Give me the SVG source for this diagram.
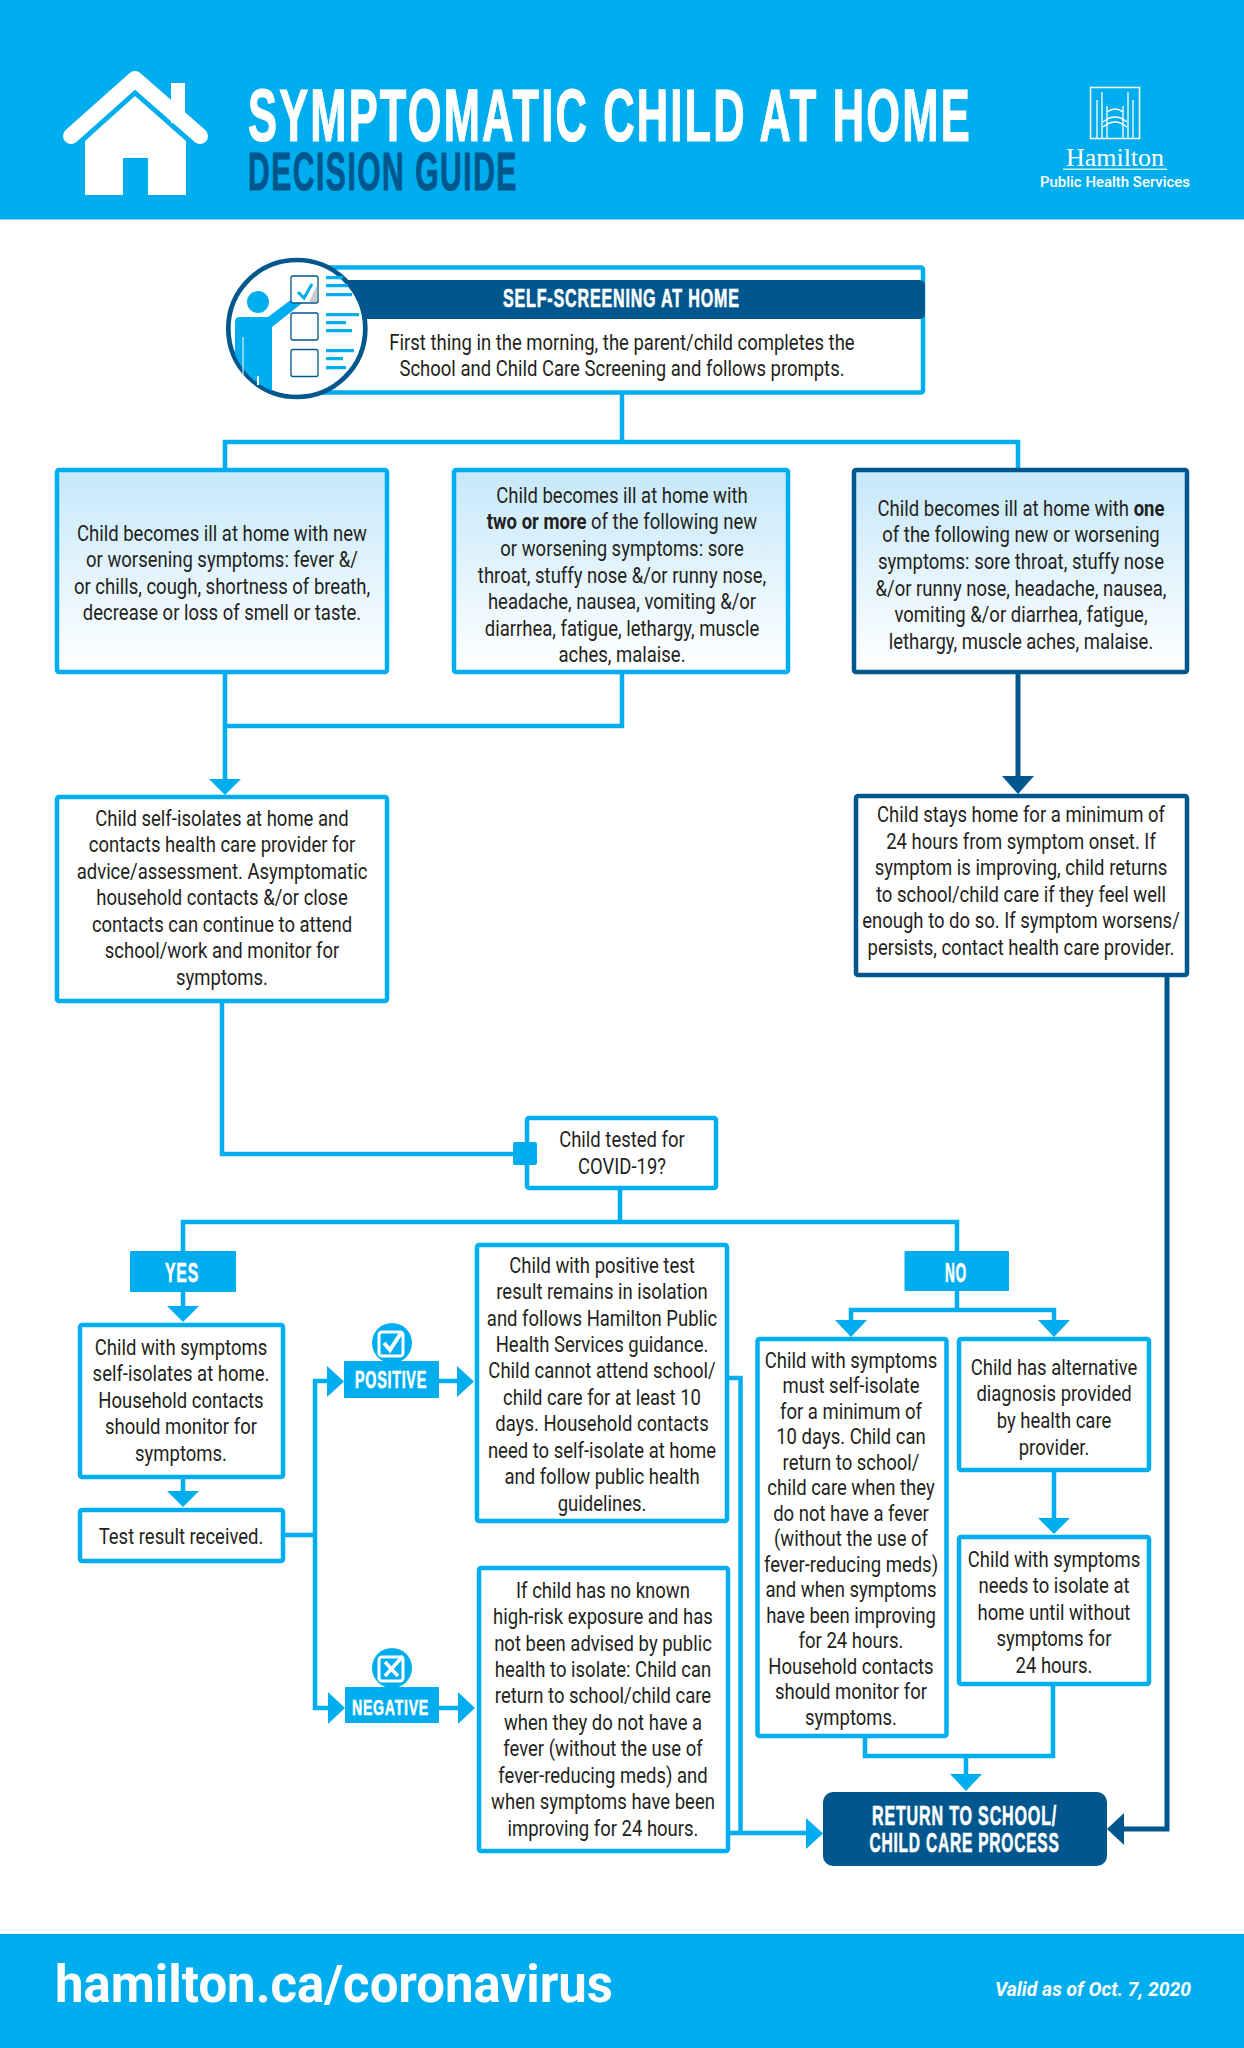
<svg xmlns="http://www.w3.org/2000/svg" width="1244" height="2048" viewBox="0 0 1244 2048">
<style>
.box{fill:#fff;stroke:#00aeef;stroke-width:4.5}
.gr{fill:url(#g);stroke:#00aeef;stroke-width:4.5}
.dk{fill:#fff;stroke:#00578e;stroke-width:4.5}
.b{font:400 21.5px Roboto,sans-serif;fill:#231f20;text-anchor:middle}
.h{font-family:"Liberation Sans",sans-serif;font-weight:700;fill:#fff;stroke:#fff;stroke-width:.6;letter-spacing:.05em}
.f{font-family:Roboto,sans-serif;font-weight:700;fill:#fff}
.c{fill:none;stroke:#00aeef;stroke-width:4.5}
.cd{fill:none;stroke:#00578e;stroke-width:5}
.a{fill:#00aeef}
.ad{fill:#00578e}
.bl{fill:#00aeef}
.lab{fill:#00aeef}
</style>
<defs>
<linearGradient id="g" x1="0" y1="0" x2="0" y2="1"><stop offset="0" stop-color="#c6e8fa"/><stop offset="1" stop-color="#fff"/></linearGradient>
<clipPath id="ring"><circle cx="296.8" cy="328.5" r="67"/></clipPath>
</defs>
<rect width="1244" height="2048" fill="#fff"/>

<g id="header">
<rect width="1244" height="219.5" fill="#00aeef"/>
<g id="house-icon" fill="#fff">
<rect x="171" y="83" width="14" height="40"/>
<path d="M71 136 135 79 200 136" fill="none" stroke="#fff" stroke-width="16" stroke-linecap="round" stroke-linejoin="round"/>
<path d="M85 195V141L135 96 186 141V195H148V158H123V195Z"/>
</g>
<text class="h" transform="translate(248 141) scale(.58 1)" font-size="74" textLength="1248" lengthAdjust="spacingAndGlyphs" style="stroke-width:1.2">SYMPTOMATIC CHILD AT HOME</text>
<text class="h" transform="translate(248 190) scale(.567 1)" font-size="53" textLength="476" lengthAdjust="spacingAndGlyphs" style="fill:#00578e;stroke:#00578e;stroke-width:1">DECISION GUIDE</text>
<g id="hamilton-logo">
<rect x="1090.500" y="87.500" width="49" height="51" fill="none" stroke="#fff" stroke-width="1.500"/>
<path d="M1097 138V100M1102 138V92M1107 138V106M1123 138V106M1128 138V92M1133 138V100M1107 112Q1115 106 1123 112M1103 122Q1115 112 1127 122M1103 127Q1115 117 1127 127" fill="none" stroke="#fff" stroke-width="1.300"/>
<text x="1115" y="166" font-family="Liberation Serif,serif" font-size="25" fill="#fff" text-anchor="middle" textLength="98" lengthAdjust="spacingAndGlyphs">Hamilton</text>
<rect x="1063" y="168.500" width="104" height="1.500" fill="#cdeefb"/>
<text transform="translate(1040 187) scale(.9 1)" font-family="Roboto,sans-serif" font-weight="500" font-size="14.500" fill="#fff" textLength="166.700" lengthAdjust="spacingAndGlyphs">Public Health Services</text>
</g>
</g>

<g id="connectors">
<path class="c" d="M622 394V442M225 469V442H1018V469"/>
<path class="c" d="M225 673V782M622 673V726H225"/>
<path class="a" d="M209 779H241L225 795Z"/>
<path class="cd" d="M1018 673V778"/>
<path class="ad" d="M1002 776H1034L1018 794Z"/>
<path class="cd" d="M1167 976V1829H1122"/>
<path class="ad" d="M1124 1813V1845L1107 1829Z"/>
<path class="c" d="M222 1001V1154H515"/>
<path class="c" d="M620 1188V1222M183 1251V1222H957V1251"/>
<path class="c" d="M183 1292V1308"/>
<path class="a" d="M167 1306H199L183 1322Z"/>
<path class="c" d="M183 1477V1493"/>
<path class="a" d="M167 1491H199L183 1507Z"/>
<path class="c" d="M284 1535H315M329 1381H315V1708H330"/>
<path class="a" d="M327 1366V1397L344 1381.500Z"/>
<path class="a" d="M328 1692V1724L345 1708Z"/>
<path class="c" d="M439 1381H459M439 1708H459"/>
<path class="a" d="M457 1366V1397L474 1381.500Z"/>
<path class="a" d="M458 1692V1724L475 1708Z"/>
<path class="c" d="M957 1291V1310M851 1322V1310H1054V1322"/>
<path class="a" d="M835 1320H867L851 1337Z"/>
<path class="a" d="M1038 1320H1070L1054 1337Z"/>
<path class="c" d="M1054 1471V1520"/>
<path class="a" d="M1038 1518H1070L1054 1534Z"/>
<path class="c" d="M865 1737V1756H1053V1685M966 1756V1776"/>
<path class="a" d="M950 1774H982L966 1791Z"/>
<path class="c" d="M728 1378H740.500V1833M729 1833H808"/>
<path class="a" d="M806 1818V1849L823 1833.500Z"/>
</g>

<g id="n-screening">
<rect class="box" x="290" y="267.500" width="633" height="125" rx="2"/>
<path d="M290 280H919Q925 280 925 286V313Q925 319 919 319H290Z" fill="#00578e"/>
<text class="h" transform="translate(503 307) scale(.623 1)" font-size="26" textLength="380" lengthAdjust="spacingAndGlyphs">SELF-SCREENING AT HOME</text>
<g transform="translate(622 0) scale(.86 1)">
<text class="b" y="350">First thing in the morning, the parent/child completes the</text>
<text class="b" y="376">School and Child Care Screening and follows prompts.</text>
</g>
<g id="screening-icon">
<circle cx="296.800" cy="328.500" r="68.500" fill="#fff" stroke="#00578e" stroke-width="4.700"/>
<circle cx="258" cy="302" r="11" class="bl"/>
<path class="bl" clip-path="url(#ring)" d="M235 322Q235 317 240 317H268L296 296Q301 294 303 299Q304 301 301 304L272 327V410H235Z"/>
<path d="M243 337V380" stroke="#fff" stroke-width="1"/>
<path d="M257 376H259V385H257Z" fill="#fff"/>
<g fill="none" stroke="#00578e" stroke-width="1.300"><rect x="291" y="276" width="27" height="27" rx="2" fill="#fff"/><rect x="291" y="313" width="27" height="27" rx="2"/><rect x="291" y="349.500" width="27" height="27" rx="2"/></g>
<path d="M317 285V302H309Z" fill="#ccc"/>
<path d="M298 292 304 298 312 284" fill="none" stroke="#00aeef" stroke-width="3"/>
<path class="bl" d="M326 276h17v3.300h-17zM326 284h22v3.300h-22zM326 293h26v3.300h-26zM326 313h33v3.300h-33zM326 321h20v3.300h-20zM326 329h26v3.300h-26zM326 349h28v3.300h-28zM326 357h17v3.300h-17zM326 366h20v3.300h-20z"/>
</g>
</g>

<g id="n-symptoms-a">
<rect class="gr" x="57" y="470" width="330" height="202" rx="2"/>
<g transform="translate(222 0) scale(.86 1)">
<text class="b" y="541">Child becomes ill at home with new</text>
<text class="b" y="567.500">or worsening symptoms: fever &amp;/</text>
<text class="b" y="594">or chills, cough, shortness of breath,</text>
<text class="b" y="620.500">decrease or loss of smell or taste.</text>
</g>
</g>
<g id="n-symptoms-b">
<rect class="gr" x="454" y="470" width="334" height="202" rx="2"/>
<g transform="translate(622 0) scale(.86 1)">
<text class="b" y="503">Child becomes ill at home with</text>
<text class="b" y="529.500"><tspan font-weight="700">two or more</tspan> of the following new</text>
<text class="b" y="556">or worsening symptoms: sore</text>
<text class="b" y="583">throat, stuffy nose &amp;/or runny nose,</text>
<text class="b" y="609.500">headache, nausea, vomiting &amp;/or</text>
<text class="b" y="636">diarrhea, fatigue, lethargy, muscle</text>
<text class="b" y="662.500">aches, malaise.</text>
</g>
</g>
<g id="n-symptoms-c">
<rect class="gr" style="stroke:#00578e" x="854" y="470" width="333" height="202" rx="2"/>
<g transform="translate(1021 0) scale(.86 1)">
<text class="b" y="516">Child becomes ill at home with <tspan font-weight="700">one</tspan></text>
<text class="b" y="542.500">of the following new or worsening</text>
<text class="b" y="569">symptoms: sore throat, stuffy nose</text>
<text class="b" y="596">&amp;/or runny nose, headache, nausea,</text>
<text class="b" y="622.500">vomiting &amp;/or diarrhea, fatigue,</text>
<text class="b" y="649">lethargy, muscle aches, malaise.</text>
</g>
</g>
<g id="n-self-isolates">
<rect class="box" x="57" y="797" width="330" height="204" rx="2"/>
<g transform="translate(222 0) scale(.86 1)">
<text class="b" y="826">Child self-isolates at home and</text>
<text class="b" y="852.500">contacts health care provider for</text>
<text class="b" y="879">advice/assessment. Asymptomatic</text>
<text class="b" y="905.500">household contacts &amp;/or close</text>
<text class="b" y="932">contacts can continue to attend</text>
<text class="b" y="958.500">school/work and monitor for</text>
<text class="b" y="985">symptoms.</text>
</g>
</g>
<g id="n-stays-home">
<rect class="dk" x="856" y="796" width="331" height="179" rx="2"/>
<g transform="translate(1021 0) scale(.86 1)">
<text class="b" y="822">Child stays home for a minimum of</text>
<text class="b" y="849">24 hours from symptom onset. If</text>
<text class="b" y="875.500">symptom is improving, child returns</text>
<text class="b" y="902">to school/child care if they feel well</text>
<text class="b" y="928.500">enough to do so. If symptom worsens/</text>
<text class="b" y="955">persists, contact health care provider.</text>
</g>
</g>
<g id="n-tested">
<rect class="box" x="527" y="1118" width="189" height="70" rx="2"/>
<path class="a" d="M513 1144Q513 1142 515 1142H535Q537 1142 537 1144V1163Q537 1165 535 1165H515Q513 1165 513 1163Z"/>
<g transform="translate(622 0) scale(.86 1)">
<text class="b" y="1147">Child tested for</text>
<text class="b" y="1174">COVID-19?</text>
</g>
</g>
<g id="n-yes">
<rect class="lab" x="130" y="1251" width="106" height="41" rx="1"/>
<text class="h" transform="translate(165 1282) scale(.586 1)" font-size="27" textLength="58" lengthAdjust="spacingAndGlyphs">YES</text>
</g>
<g id="n-no">
<rect class="lab" x="904.500" y="1251" width="104.500" height="40" rx="1"/>
<text class="h" transform="translate(945 1282) scale(.51 1)" font-size="27" textLength="43" lengthAdjust="spacingAndGlyphs">NO</text>
</g>
<g id="n-child-isolates">
<rect class="box" x="80" y="1325" width="203" height="152" rx="2"/>
<g transform="translate(181 0) scale(.86 1)">
<text class="b" y="1355">Child with symptoms</text>
<text class="b" y="1381">self-isolates at home.</text>
<text class="b" y="1408">Household contacts</text>
<text class="b" y="1434">should monitor for</text>
<text class="b" y="1461">symptoms.</text>
</g>
</g>
<g id="n-test-result">
<rect class="box" x="80" y="1510" width="203" height="51" rx="2"/>
<g transform="translate(181 0) scale(.86 1)"><text class="b" y="1544">Test result received.</text></g>
</g>
<g id="n-positive">
<circle cx="392" cy="1343" r="20" class="lab"/>
<rect x="379" y="1332" width="24" height="24" rx="3" fill="none" stroke="#fff" stroke-width="3"/>
<path d="M384 1343 390 1350 401 1333" fill="none" stroke="#fff" stroke-width="4"/>
<rect class="lab" x="344" y="1361" width="95" height="37" rx="1"/>
<text class="h" transform="translate(355 1388) scale(.62 1)" font-size="23" textLength="116" lengthAdjust="spacingAndGlyphs">POSITIVE</text>
</g>
<g id="n-negative">
<circle cx="392" cy="1668" r="20" class="lab"/>
<rect x="379" y="1657" width="24" height="24" rx="3" fill="none" stroke="#fff" stroke-width="3"/>
<path d="M385 1662 398 1676M385 1676 403 1656" fill="none" stroke="#fff" stroke-width="3.500"/>
<rect class="lab" x="345" y="1687" width="94" height="36" rx="1"/>
<text class="h" transform="translate(352 1715) scale(.606 1)" font-size="23" textLength="127" lengthAdjust="spacingAndGlyphs">NEGATIVE</text>
</g>
<g id="n-positive-text">
<rect class="box" x="477" y="1245" width="250" height="276" rx="2"/>
<g transform="translate(602 0) scale(.86 1)">
<text class="b" y="1273">Child with positive test</text>
<text class="b" y="1299.500">result remains in isolation</text>
<text class="b" y="1326">and follows Hamilton Public</text>
<text class="b" y="1352">Health Services guidance.</text>
<text class="b" y="1378.500">Child cannot attend school/</text>
<text class="b" y="1405">child care for at least 10</text>
<text class="b" y="1431.500">days. Household contacts</text>
<text class="b" y="1458">need to self-isolate at home</text>
<text class="b" y="1484.500">and follow public health</text>
<text class="b" y="1511">guidelines.</text>
</g>
</g>
<g id="n-negative-text">
<rect class="box" x="479" y="1568" width="249" height="283" rx="2"/>
<g transform="translate(603 0) scale(.86 1)">
<text class="b" y="1598">If child has no known</text>
<text class="b" y="1624.500">high-risk exposure and has</text>
<text class="b" y="1651">not been advised by public</text>
<text class="b" y="1677">health to isolate: Child can</text>
<text class="b" y="1703.500">return to school/child care</text>
<text class="b" y="1730">when they do not have a</text>
<text class="b" y="1756.500">fever (without the use of</text>
<text class="b" y="1783">fever-reducing meds) and</text>
<text class="b" y="1809.500">when symptoms have been</text>
<text class="b" y="1836">improving for 24 hours.</text>
</g>
</g>
<g id="n-no-a">
<rect class="box" x="757.500" y="1339" width="189" height="397" rx="2"/>
<g transform="translate(851 0) scale(.86 1)">
<text class="b" y="1368">Child with symptoms</text>
<text class="b" y="1393.500">must self-isolate</text>
<text class="b" y="1419">for a minimum of</text>
<text class="b" y="1444.500">10 days. Child can</text>
<text class="b" y="1470">return to school/</text>
<text class="b" y="1495.500">child care when they</text>
<text class="b" y="1521">do not have a fever</text>
<text class="b" y="1546.500">(without the use of</text>
<text class="b" y="1572">fever-reducing meds)</text>
<text class="b" y="1597.500">and when symptoms</text>
<text class="b" y="1623">have been improving</text>
<text class="b" y="1648.500">for 24 hours.</text>
<text class="b" y="1674">Household contacts</text>
<text class="b" y="1699.500">should monitor for</text>
<text class="b" y="1725">symptoms.</text>
</g>
</g>
<g id="n-no-b">
<rect class="box" x="959" y="1339" width="190" height="131" rx="2"/>
<g transform="translate(1054 0) scale(.86 1)">
<text class="b" y="1375">Child has alternative</text>
<text class="b" y="1401.500">diagnosis provided</text>
<text class="b" y="1428">by health care</text>
<text class="b" y="1455">provider.</text>
</g>
</g>
<g id="n-no-c">
<rect class="box" x="959" y="1537" width="190" height="147" rx="2"/>
<g transform="translate(1054 0) scale(.86 1)">
<text class="b" y="1567">Child with symptoms</text>
<text class="b" y="1593.500">needs to isolate at</text>
<text class="b" y="1620">home until without</text>
<text class="b" y="1646.500">symptoms for</text>
<text class="b" y="1673">24 hours.</text>
</g>
</g>
<g id="n-return">
<rect x="823" y="1792" width="284" height="74" rx="10" fill="#00578e"/>
<text class="h" transform="translate(872 1825) scale(.595 1)" font-size="27" textLength="311" lengthAdjust="spacingAndGlyphs">RETURN TO SCHOOL/</text>
<text class="h" transform="translate(869.500 1852) scale(.576 1)" font-size="27" textLength="330" lengthAdjust="spacingAndGlyphs">CHILD CARE PROCESS</text>
</g>
<g id="footer">
<rect y="1934" width="1244" height="114" fill="#00aeef"/>
<text class="f" x="55" y="2002" font-size="51" textLength="558" lengthAdjust="spacingAndGlyphs">hamilton.ca/coronavirus</text>
<text class="f" transform="translate(995 1996) scale(.8 1)" font-size="21" font-style="italic" textLength="245" lengthAdjust="spacingAndGlyphs">Valid as of Oct. 7, 2020</text>
</g>
</svg>
